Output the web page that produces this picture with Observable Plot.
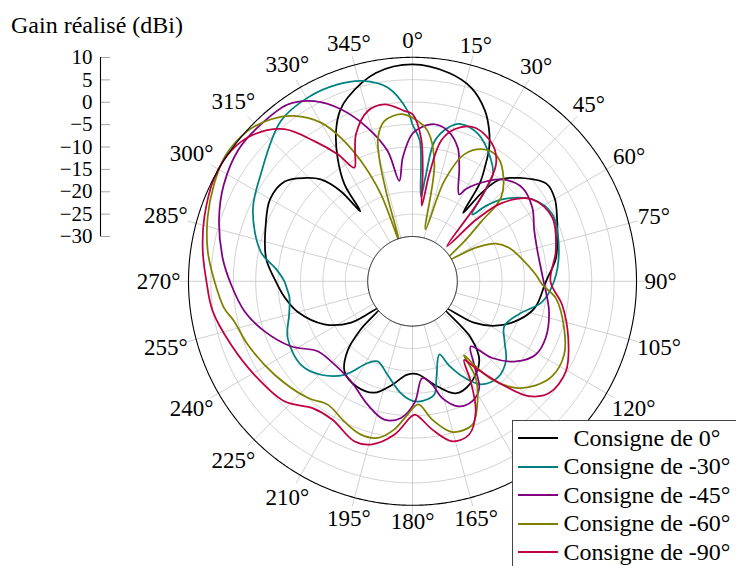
<!DOCTYPE html>
<html>
<head>
<meta charset="utf-8">
<script src="https://cdn.jsdelivr.net/npm/d3@7"></script>
<script src="https://cdn.jsdelivr.net/npm/@observablehq/plot@0.6"></script>
<style>
  body { margin: 0; background: #fff; }
  #wrap { position: relative; width: 736px; height: 566px; overflow: hidden; font-family: "Liberation Serif", "Times New Roman", serif; background: #fff; }
  #wrap > svg { position: absolute; left: 0; top: 0; }
  #title { position: absolute; left: 11px; top: 13px; font-size: 24px; line-height: 24px; white-space: nowrap; color: #000; }
  #legend { position: absolute; left: 512px; top: 420px; width: 240px; height: 160px; box-sizing: border-box; border: 1px solid #444; background: #fff; padding-top: 3px; }
  #legend .row { display: flex; align-items: center; height: 28.5px; }
  #legend .row svg { display: block; margin-left: 5px; flex: none; }
  #legend .row span { display: inline-block; width: 178px; text-align: center; font-size: 24px; white-space: nowrap; }
</style>
</head>
<body>
<div id="wrap"></div>
<script>
// ---------------- data ----------------
const seriesNames = ["Consigne de 0°", "Consigne de -30°", "Consigne de -45°", "Consigne de -60°", "Consigne de -90°"];
const seriesColors = ["#000000", "#008080", "#800080", "#808000", "#c00040"];

const anglesC0 = [0,10,17,23,27,30,32,34.5,36.5,38,40.5,46,54,60,66,73,81,90,102,110,118,124,130,134,140,151,159,168,176,180,184,191,199,208,217,223,227,231,236,244,255,263,271,279,291,300,308,314,318,321.5,323.3,325,328.8,333,337,340.6,350];
const gainC0   = [8.4,7.2,5.1,1.4,-2.3,-5.8,-9.2,-13.5,-21,-15,-10.2,-6.8,-3,-3.3,-4.7,-6.2,-7.6,-10.2,-12,-14.8,-18.9,-23.5,-31,-22,-16.8,-13.7,-13.2,-16.4,-19.1,-19.4,-19,-16.5,-13.7,-13.4,-14.8,-18.7,-24,-31,-23.5,-18.1,-13.5,-11.2,-9.2,-6.9,-4.9,-3.3,-3.8,-6.8,-9.4,-14.3,-20.5,-13.5,-7.7,-2.4,1.4,3.5,7.2];

const anglesC30 = [0,3,5.7,7,9,13,17,24,32,37,41.7,44.2,47.6,55.6,64.4,78,90,99,107,116,123,130.4,138.5,146.4,151.7,156.5,159.8,166,169,175,180,186,195,203.5,208.7,216,224.4,233,245.6,255,262.4,266,270,275,281,294,305,320.6,330.3,339.2,346,352.7,358.4];
const gainC30   = [-5,-8.6,-21,-17,-8.3,-4.8,-3.3,-4,-7.3,-10.2,-20,-16.6,-12.9,-7.6,-5.4,-6.6,-8.4,-10.7,-15.1,-17.2,-15.5,-12.6,-11.3,-12.4,-15.6,-19.5,-22.6,-17.9,-14.3,-13.2,-13.3,-14.9,-18.4,-20.5,-19.2,-14.2,-10.8,-8.9,-9.4,-11.5,-12.3,-12,-11.4,-9.5,-5.5,-1,1.4,6.3,7.2,7,6.1,3.6,-2];

const anglesC45 = [0,3.2,8,13.2,18.7,22.4,28.2,30,33.1,41.4,49.6,58.4,67,76.4,88.4,102.4,113,120.8,127.8,133.9,138.2,143.5,148,153.5,159.6,165.7,169.2,174.2,179,184.8,191.5,200,211.6,225.5,233.6,241.9,251.4,259.9,269,277,288,297,307,316,324.8,331.4,337.4,343.7,349.2,352.5,355.5];
const gainC45   = [-7,-5.6,-4.6,-5.5,-8.5,-12.6,-18,-16.3,-14.2,-9.7,-7.8,-8.6,-10.5,-11.3,-10.9,-8.8,-7.7,-8,-10.8,-15.3,-20.5,-16.9,-11.9,-10.1,-10.2,-13.1,-16.5,-18.3,-12.9,-9.4,-8.5,-10.7,-13.8,-14.5,-13.7,-9.2,-5.1,-1.9,0.5,2.7,5.4,7.3,8.7,8.7,8.3,5.8,1.6,-4.3,-10.4,-17.4,-12.3];

const anglesC60 = [0,5.8,10.6,14,17.6,22.2,28.5,34,39.3,46.6,49,52,58.5,62,65.7,70.8,78.7,86.7,91.5,96.7,107.1,115.8,124.2,130.2,135.9,140.9,143.4,145.2,146.8,152.3,157.4,165.2,171.9,177.3,182,187,192.5,198.6,206,214.5,222,236,249,257.4,262,270,278.4,287.3,296,304,312.4,318.9,324.4,330,333.5,336.8,340.1,341.5,343.5,344.8,346.5,350,356];
const gainC60   = [-3.5,-6.3,-13.4,-28,-16.5,-9.4,-6.5,-6.3,-8.2,-12.8,-19.6,-24.8,-31,-24,-19.6,-17.2,-15,-12.5,-11,-7.8,-4.6,-2.4,-2.3,-4,-6.9,-11.7,-16.4,-19.9,-14.2,-8.9,-5.3,-5.2,-8.8,-12.5,-10.3,-6.7,-4.2,-3.9,-5.2,-6.6,-5,-2.8,-0.6,0.8,2.5,4.2,6.2,7.9,9.3,10.3,9.8,8,5.4,0.9,-4.2,-10.8,-19.4,-31,-20,-12,-7,-3.7,-2.6];

const anglesC90 = [0,3.4,5.3,7,8.9,11.5,15.4,21.9,30.3,35.5,39.3,44.5,46,48.8,55.6,65.5,78,90,98.9,110,120.4,129.3,134.6,139,143.9,146.7,149.8,154.1,159.8,166,172.4,178.6,180.5,186.8,194.3,200,210,218,226.9,239.4,250.7,261.5,270,278.2,287,297.6,305.7,312.9,319.9,325,329.5,332.9,336.2,339,345.3,351,357.2];
const gainC90   = [-2.7,-7.9,-15.3,-23,-15.8,-8,-4.8,-3,-4.6,-7.9,-15.9,-29,-20,-13.4,-7.6,-5.7,-7.3,-9.2,-6.2,-3,-0.3,-0.6,-3.5,-9.4,-16,-19,-14.2,-7.7,-3.5,-3.2,-6.6,-10.2,-9.8,-5.5,-2.4,-2,-4.3,-4,-0.8,1,2.9,5.1,6,7.3,8.6,9.9,9.9,8.2,4.4,-1.8,-7.1,-11.5,-8.2,-4.8,-0.7,0,-1.9];

const angleTicks  = [0,15,30,45,60,75,90,105,120,135,150,165,180,195,210,225,240,255,270,285,300,315,330,345];
const hiddenByLegend = [135, 150];   // these labels sit under the legend box in the reference
const radialTicks = [-30,-25,-20,-15,-10,-5,0,5,10];
const titleText = "Gain réalisé (dBi)";

// ---------------- helpers ----------------
const DB_MIN = -30, DB_MAX = 10, HOLE = 10;           // hole radius expressed in dB units
const OUTER = DB_MAX - DB_MIN + HOLE;                  // 50 "degrees" on the sphere
const FRAME = 448;                                     // diameter of outer circle in px
const PXU = FRAME / (2 * OUTER);                       // px per unit
const FONT = 23;
const AXIS_FONT = 21;
const lon = a => 180 - a;                              // clockwise from top
const lat = g => 90 - (g - DB_MIN + HOLE);
const circle = r => d3.geoCircle().center([0, 90]).radius(r).precision(0.5)();

const seriesData = [
  [anglesC0, gainC0], [anglesC30, gainC30], [anglesC45, gainC45], [anglesC60, gainC60], [anglesC90, gainC90]
];
const rows = seriesData.flatMap(([A, G], k) => A.map((a, i) => ({name: seriesNames[k], lon: lon(a), lat: lat(G[i])})));

const rings = radialTicks.filter(d => d > DB_MIN && d < DB_MAX).map(d => circle(d - DB_MIN + HOLE));

function labelLat(a) {
  const t = a * Math.PI / 180;
  const w = (String(a).length * 0.5 + 0.4) * FONT;
  const h = 17;
  const r = 232 + Math.abs(w / 2 * Math.sin(t)) + Math.abs(h / 2 * Math.cos(t));
  return 90 - r / PXU;
}
const tickOuterLat = 90 - 233 / PXU;
const labelTicks = angleTicks.filter(a => !hiddenByLegend.includes(a));

const wrap = document.getElementById("wrap");

// ---------------- polar chart ----------------
const polar = Plot.plot({
  width: 736, height: 566,
  marginLeft: 188, marginRight: 100, marginTop: 56.8, marginBottom: 61.2,
  projection: {
    type: "azimuthal-equidistant",
    rotate: [0, -90],
    domain: circle(OUTER),
    inset: 0,
    clip: false
  },
  color: {domain: seriesNames, range: seriesColors},
  style: {fontFamily: "'Liberation Serif', 'Times New Roman', serif", fontSize: FONT + "px", background: "transparent", overflow: "visible"},
  marks: [
    Plot.geo(rings, {stroke: "#c4c4c4", strokeWidth: 0.8, fill: "none"}),
    Plot.link(angleTicks, {x1: lon, y1: lat(DB_MIN), x2: lon, y2: tickOuterLat, stroke: "#c4c4c4", strokeWidth: 0.8}),
    Plot.line(rows, {x: "lon", y: "lat", z: "name", stroke: "name", strokeWidth: 1.75, curve: "catmull-rom-closed"}),
    Plot.geo(circle(HOLE), {fill: "white", stroke: "black", strokeWidth: 1}),
    Plot.geo(circle(OUTER), {fill: "none", stroke: "black", strokeWidth: 1.1}),
    Plot.text(labelTicks, {x: lon, y: labelLat, text: a => a + "°", fontSize: FONT, fill: "black", textAnchor: "middle", lineAnchor: "middle"})
  ]
});
wrap.appendChild(polar);

// ---------------- radial gain axis ----------------
const axis = Plot.plot({
  width: 140, height: 260,
  marginLeft: 100, marginRight: 30, marginTop: 57, marginBottom: 24,
  x: {domain: [0, 1], axis: null},
  y: {domain: [DB_MIN, DB_MAX], axis: null},
  style: {fontFamily: "'Liberation Serif', 'Times New Roman', serif", fontSize: AXIS_FONT + "px", background: "transparent", overflow: "visible"},
  marks: [
    Plot.tickY(radialTicks, {y: d => d, stroke: "#9a9a9a", strokeWidth: 0.9}),
    Plot.ruleX([0], {y1: DB_MIN, y2: DB_MAX, stroke: "black", strokeWidth: 1.1}),
    Plot.axisY(radialTicks, {anchor: "left", tickSize: 0, tickPadding: 8, tickFormat: d3.format("d"), fontSize: AXIS_FONT, label: null, fill: "black"})
  ]
});
wrap.appendChild(axis);

// ---------------- title ----------------
const title = document.createElement("div");
title.id = "title";
title.textContent = titleText;
wrap.appendChild(title);

// ---------------- legend ----------------
const legend = document.createElement("div");
legend.id = "legend";
seriesNames.forEach((name, i) => {
  const row = document.createElement("div");
  row.className = "row";
  row.innerHTML = `<svg width="40" height="6"><line x1="0" x2="40" y1="3" y2="3" stroke="${seriesColors[i]}" stroke-width="1.8"/></svg><span>${name}</span>`;
  legend.appendChild(row);
});
wrap.appendChild(legend);
</script>
</body>
</html>
